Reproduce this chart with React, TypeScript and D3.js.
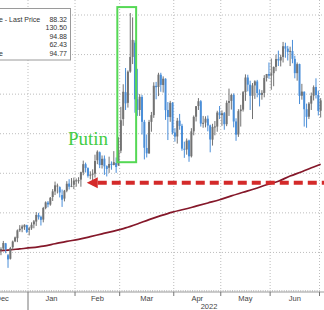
import React from "react";
import * as d3 from "d3";

// WTI crude daily bars (trading days)
const dates = [
  "2021-12-01","2021-12-02","2021-12-03","2021-12-06","2021-12-07","2021-12-08","2021-12-09","2021-12-10",
  "2021-12-13","2021-12-14","2021-12-15","2021-12-16","2021-12-17","2021-12-20","2021-12-21","2021-12-22","2021-12-23","2021-12-27","2021-12-28","2021-12-29","2021-12-30","2021-12-31",
  "2022-01-03","2022-01-04","2022-01-05","2022-01-06","2022-01-07","2022-01-10","2022-01-11","2022-01-12","2022-01-13","2022-01-14","2022-01-18","2022-01-19","2022-01-20","2022-01-21","2022-01-24","2022-01-25","2022-01-26","2022-01-27","2022-01-28","2022-01-31",
  "2022-02-01","2022-02-02","2022-02-03","2022-02-04","2022-02-07","2022-02-08","2022-02-09","2022-02-10","2022-02-11","2022-02-14","2022-02-15","2022-02-16","2022-02-17","2022-02-18","2022-02-22","2022-02-23","2022-02-24","2022-02-25","2022-02-28",
  "2022-03-01","2022-03-02","2022-03-03","2022-03-04","2022-03-07","2022-03-08","2022-03-09","2022-03-10","2022-03-11","2022-03-14","2022-03-15","2022-03-16","2022-03-17","2022-03-18","2022-03-21","2022-03-22","2022-03-23","2022-03-24","2022-03-25","2022-03-28","2022-03-29","2022-03-30","2022-03-31",
  "2022-04-01","2022-04-04","2022-04-05","2022-04-06","2022-04-07","2022-04-08","2022-04-11","2022-04-12","2022-04-13","2022-04-14","2022-04-18","2022-04-19","2022-04-20","2022-04-21","2022-04-22","2022-04-25","2022-04-26","2022-04-27","2022-04-28","2022-04-29",
  "2022-05-02","2022-05-03","2022-05-04","2022-05-05","2022-05-06","2022-05-09","2022-05-10","2022-05-11","2022-05-12","2022-05-13","2022-05-16","2022-05-17","2022-05-18","2022-05-19","2022-05-20","2022-05-23","2022-05-24","2022-05-25","2022-05-26","2022-05-27","2022-05-31",
  "2022-06-01","2022-06-02","2022-06-03","2022-06-06","2022-06-07","2022-06-08","2022-06-09","2022-06-10","2022-06-13","2022-06-14","2022-06-15","2022-06-16","2022-06-17","2022-06-21","2022-06-22","2022-06-23","2022-06-24","2022-06-27","2022-06-28","2022-06-29","2022-06-30",
  "2022-07-01",
];

const opens = [
  66.2,65.6,66.5,66.3,69.5,72.0,72.4,70.9,
  71.7,71.2,70.8,71.0,72.3,69.3,68.4,71.3,72.8,73.6,75.6,76.0,76.4,76.9,
  75.7,76.1,77.1,77.8,79.5,79.0,78.3,81.2,82.6,82.1,84.0,85.4,86.9,86.5,84.5,83.6,85.6,87.4,86.6,87.1,
  88.1,88.2,88.4,90.2,92.3,91.3,89.4,89.7,89.9,93.3,95.3,92.1,93.7,91.8,91.4,92.4,92.1,92.6,92.0,
  95.7,103.7,110.5,107.8,115.7,119.4,123.0,108.7,106.0,109.3,103.0,96.4,95.0,103.0,104.7,112.1,111.8,114.9,112.3,113.9,106.0,104.2,107.8,
  100.3,99.3,103.3,102.0,96.2,96.0,98.3,94.3,100.6,104.3,107.0,108.2,102.6,102.8,103.8,102.1,98.5,101.7,101.8,105.4,
  104.7,105.2,102.4,107.8,108.3,109.8,103.1,99.8,105.7,106.1,110.5,114.2,112.4,109.6,112.2,113.2,110.3,109.8,110.3,114.1,115.1,
  114.7,115.3,116.9,118.9,118.5,119.4,122.1,121.5,120.7,120.9,118.9,115.3,117.6,109.6,110.6,106.2,104.3,107.6,109.6,111.8,109.8,
  105.8,
];

const highs = [
  69.4,66.8,69.0,69.7,72.3,72.9,72.6,71.9,
  72.4,71.5,71.3,72.9,72.4,69.6,71.4,73.0,74.0,75.8,76.9,77.0,77.1,77.0,
  76.5,77.6,78.2,80.2,80.0,79.3,81.5,82.9,83.0,84.0,86.0,87.9,87.4,86.7,85.9,85.8,88.0,88.5,88.8,88.9,
  88.7,89.0,90.4,93.2,92.7,91.5,90.5,91.0,94.7,95.8,95.5,94.5,94.5,92.0,94.2,93.0,95.6,94.0,99.1,
  106.8,112.5,116.6,116.0,130.5,129.4,123.6,116.4,110.0,109.8,103.5,99.8,103.5,105.5,113.0,113.1,115.4,115.4,114.5,114.0,108.0,108.3,108.0,
  101.4,104.0,105.0,102.5,98.0,98.8,98.5,101.4,104.6,107.0,109.0,108.5,104.5,104.4,104.6,102.3,102.5,103.2,105.8,107.0,
  105.9,105.5,108.4,111.4,110.1,110.2,103.9,106.2,107.3,110.8,115.0,114.9,113.4,112.8,113.5,113.6,111.2,111.0,114.8,115.1,118.0,
  119.0,117.0,120.0,121.0,120.0,123.2,123.0,122.2,122.0,123.7,119.7,118.0,117.7,112.6,110.7,107.6,108.0,110.4,112.2,114.0,110.9,
  109.0,
];

const lows = [
  64.4,62.4,65.0,66.1,69.3,71.3,70.5,70.1,
  70.8,69.8,69.3,70.6,69.8,66.1,68.2,70.7,72.6,72.6,75.2,75.1,75.7,74.9,
  74.3,75.7,76.1,76.7,78.3,76.8,77.6,80.9,81.4,81.8,83.0,84.5,84.9,83.9,81.5,82.9,85.2,85.9,86.5,86.0,
  86.6,87.4,86.6,89.5,90.2,88.9,88.5,87.0,88.9,92.3,91.3,91.2,89.6,89.2,90.1,90.9,92.0,90.1,91.9,
  95.1,102.0,106.0,106.6,115.4,117.6,105.3,104.5,104.5,99.8,93.5,94.0,95.0,100.5,104.0,108.7,109.5,110.6,110.4,103.5,98.4,103.0,99.8,
  98.0,97.5,101.0,95.7,93.9,94.7,92.9,94.0,99.6,103.1,106.0,101.8,101.5,101.6,100.6,95.3,97.0,99.6,100.5,103.7,
  102.0,101.0,101.9,104.5,106.1,101.6,98.2,99.2,101.8,105.6,108.3,110.7,106.0,103.7,108.8,109.2,106.9,108.6,109.2,113.2,113.9,
  111.1,112.0,115.8,117.1,117.0,118.0,119.2,118.5,117.1,117.8,114.0,113.4,107.5,108.6,101.8,101.5,103.7,106.0,108.4,108.9,104.6,
  104.1,
];

const closes = [
  65.57,66.50,66.26,69.49,72.05,72.36,70.94,71.67,
  71.29,70.73,70.87,72.38,70.86,68.23,71.12,72.76,73.79,75.57,75.98,76.56,76.99,75.21,
  76.08,76.99,77.85,79.46,78.90,78.23,81.22,82.64,82.12,83.82,85.43,86.96,86.90,85.14,83.31,85.60,87.35,86.61,86.82,88.15,
  88.20,88.26,90.27,92.31,91.32,89.36,89.66,89.88,93.10,95.46,92.07,93.66,91.76,91.07,92.35,92.10,92.81,91.59,95.72,
  103.41,110.60,107.67,115.68,119.40,123.70,108.70,106.02,109.33,103.01,96.44,95.04,102.98,104.70,112.12,111.76,114.93,112.34,113.90,105.96,104.24,107.82,100.28,
  99.27,103.28,101.96,96.23,96.03,98.26,94.29,100.60,104.25,106.95,108.21,102.56,102.75,103.79,102.07,98.54,101.70,101.84,105.36,104.69,
  105.17,102.41,107.81,108.26,109.77,103.09,99.76,105.71,106.13,110.49,114.20,112.40,109.59,112.21,113.23,110.29,109.77,110.33,114.09,115.07,114.67,
  115.26,116.87,118.87,118.50,119.41,122.11,121.51,120.67,120.93,118.93,115.31,117.59,109.56,110.65,106.19,104.27,107.62,109.57,111.76,109.78,105.76,
  108.43,
];

// 200-day moving average
const maDates = [
  "2021-12-13","2021-12-20","2021-12-28","2022-01-04","2022-01-11","2022-01-19","2022-01-26","2022-02-02","2022-02-09","2022-02-16",
  "2022-02-24","2022-03-03","2022-03-10","2022-03-17","2022-03-24","2022-03-31","2022-04-07","2022-04-14","2022-04-22","2022-04-29",
  "2022-05-06","2022-05-13","2022-05-20","2022-05-27","2022-06-06","2022-06-13","2022-06-21","2022-06-28","2022-07-01",
];
const maValues = [
  70.4,70.6,70.9,71.2,71.6,72.2,72.8,73.3,74.0,74.7,
  75.4,76.2,77.2,78.3,79.3,80.2,80.9,81.7,82.5,83.3,
  84.3,85.2,86.1,87.1,88.0,89.3,90.4,91.6,92.3,
];

const gridValues = [70, 80, 90, 100, 110, 120, 130];
const monthStarts = ["2021-12-01","2022-01-03","2022-02-01","2022-03-01","2022-04-01","2022-05-02","2022-06-01","2022-07-01"];
const monthLabels = ["Dec","Jan","Feb","Mar","Apr","May","Jun"];
const yearLabel = "2022";

const legendLabels = ["e - Last Price", "", "", "", "e"];
const legendValues = ["88.32", "130.50", "94.88", "62.43", "94.77"];

const annotationText = "Putin";
const annotationDate = "2022-01-27";
const annotationLevel = 97.1;
const boxStartDate = "2022-02-28";
const boxEndDate = "2022-03-09";
const boxHigh = 132.0;
const boxLow = 92.8;
const arrowDate = "2022-02-08";
const arrowLevel = 87.6;

const W = 324;
const H = 310;

export default function App() {
  const idx = (d: string) => dates.indexOf(d);
  const x = d3
    .scaleLinear()
    .domain([idx("2022-01-03"), idx("2022-07-01")])
    .range([28, 319.5]);
  const y = d3.scaleLinear().domain([60, 130]).range([292, 15]);
  const axisY = y(60);

  const maLine = d3
    .line<number>()
    .x((_, i) => x(idx(maDates[i]) + 0.5))
    .y((v) => y(v))
    .curve(d3.curveMonotoneX);

  const monthX = monthStarts.map((d) => x(idx(d)));
  const blue = "#4a8ed8";
  const gray = "#727272";
  const green = "#55d855";
  const red = "#d42a2a";

  const bx0 = x(idx(boxStartDate));
  const bx1 = x(idx(boxEndDate) + 1);
  const ax = x(idx(arrowDate));
  const ay = y(arrowLevel);

  return (
    <svg
      width={W}
      height={H}
      style={{ position: "absolute", left: 0, top: 0, background: "#fff" }}
      fontFamily="'Liberation Sans', Arial, sans-serif"
    >
      <rect x={0} y={0} width={W} height={H} fill="#fff" />
      {/* horizontal grid */}
      {gridValues.map((v) => (
        <line key={"g" + v} x1={0} x2={W} y1={y(v)} y2={y(v)} stroke="#bdbdbd" strokeWidth={1} strokeDasharray="1,2" />
      ))}
      {/* vertical grid */}
      {monthX.map((mx, i) => (
        <line key={"v" + i} x1={mx} x2={mx} y1={0} y2={axisY} stroke="#bdbdbd" strokeWidth={1} strokeDasharray="1,2" />
      ))}
      {/* axis */}
      <line x1={0} x2={W} y1={axisY} y2={axisY} stroke="#9a9a9a" strokeWidth={1} />
      {dates.map((d, i) => (
        <line key={"mt" + d} x1={x(i)} x2={x(i)} y1={axisY - 2} y2={axisY} stroke="#b5b5b5" strokeWidth={0.8} />
      ))}
      {monthX.map((mx, i) => (
        <line
          key={"t" + i}
          x1={mx}
          x2={mx}
          y1={axisY}
          y2={monthStarts[i] === "2022-01-03" ? H : axisY + 4}
          stroke="#777"
          strokeWidth={1}
        />
      ))}
      {monthLabels.map((m, i) => (
        <text key={m} x={(monthX[i] + monthX[i + 1]) / 2} y={axisY + 9} fontSize={7.5} fill="#444" textAnchor="middle">
          {m}
        </text>
      ))}
      <text x={209} y={axisY + 16.5} fontSize={7.5} fill="#444" textAnchor="middle">
        {yearLabel}
      </text>

      {/* moving average */}
      <path d={maLine(maValues) || ""} fill="none" stroke="#85182a" strokeWidth={1.7} />

      {/* price bars */}
      {dates.map((d, i) => {
        const cx = x(i + 0.5);
        const up = closes[i] >= opens[i];
        const c = up ? gray : blue;
        const top = y(Math.max(opens[i], closes[i]));
        const bot = y(Math.min(opens[i], closes[i]));
        return (
          <g key={"b" + d}>
            <line x1={cx} x2={cx} y1={y(highs[i])} y2={y(lows[i])} stroke={c} strokeWidth={1} />
            <rect x={cx - 1} y={top} width={2} height={Math.max(1, bot - top)} fill={c} />
          </g>
        );
      })}

      {/* arrow */}
      <line x1={ax + 11} x2={W + 5} y1={ay} y2={ay} stroke={red} strokeWidth={4} strokeDasharray="9,5" />
      <path d={`M${ax},${ay} L${ax + 11},${ay - 5.5} L${ax + 11},${ay + 5.5} Z`} fill={red} />

      {/* green box */}
      <rect x={bx0} y={y(boxHigh)} width={bx1 - bx0} height={y(boxLow) - y(boxHigh)} fill="none" stroke={green} strokeWidth={2} />
      <text x={x(idx(annotationDate))} y={y(annotationLevel)} fontSize={19} fill="#44cc44" fontFamily="'Liberation Serif', 'Times New Roman', serif">
        {annotationText}
      </text>

      {/* legend */}
      <rect x={-10} y={8.5} width={80.5} height={51.5} fill="#fff" stroke="#9a9a9a" strokeWidth={1} />
      {legendValues.map((v, i) => (
        <g key={"l" + i}>
          <text x={-1} y={21.5 + i * 8.5} fontSize={7} fill="#333">
            {legendLabels[i]}
          </text>
          <text x={67} y={21.5 + i * 8.5} fontSize={7} fill="#333" textAnchor="end">
            {v}
          </text>
        </g>
      ))}
    </svg>
  );
}
